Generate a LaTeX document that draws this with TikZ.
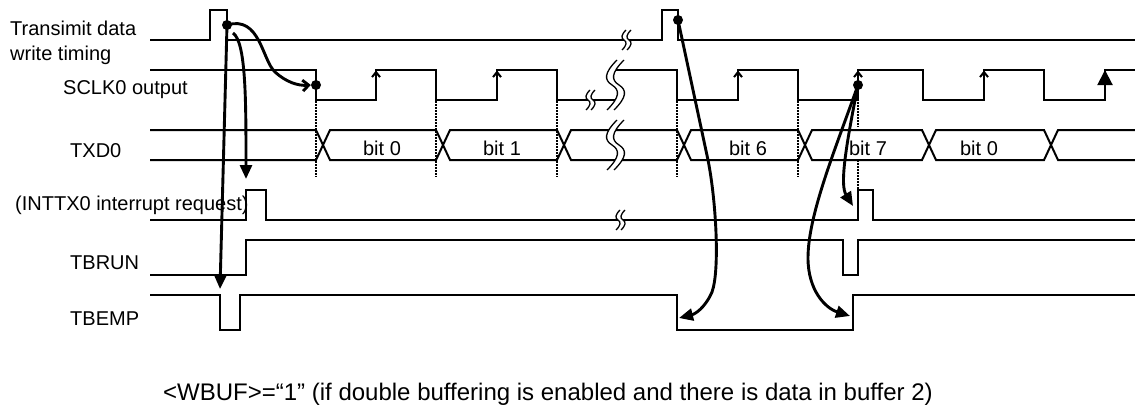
\documentclass[tikz,border=0pt]{standalone}
\usepackage{fontspec}
\setmainfont{Liberation Sans}
\usetikzlibrary{arrows.meta}
\begin{document}
\begin{tikzpicture}[x=1pt,y=-1pt,
  sig/.style={line width=2pt, line join=miter},
  dotl/.style={line width=1.6pt, dash pattern=on 1.5pt off 1.5pt},
  conn/.style={line width=2.9pt},
  fil/.style={-{Triangle[length=14pt,width=12pt]}},
  opn/.style={-{Straight Barb[length=6pt,width=11pt]}},
  rise/.style={line width=2pt, -{Straight Barb[length=5pt,width=8pt]}},
  riseb/.style={line width=2pt, -{Triangle[length=15pt,width=15pt]}},
  lbl/.style={font=\fontsize{20}{24}\selectfont, anchor=base west, inner sep=0pt},
  bitl/.style={font=\fontsize{20}{24}\selectfont, anchor=base, inner sep=0pt},
  jdot/.style={circle, fill=black, inner sep=0pt, minimum size=10pt},
  bigbrk/.pic={
    \fill[white] (5,-25) .. controls (-8,-12) and (-8,-5) .. (0,0) .. controls (8,5) and (8,12) .. (-5,25)
      -- (2,25) .. controls (15,12) and (15,5) .. (7,0) .. controls (-1,-5) and (-1,-12) .. (12,-25) -- cycle;
    \draw[line width=1.3pt] (5,-25) .. controls (-8,-12) and (-8,-5) .. (0,0) .. controls (8,5) and (8,12) .. (-5,25);
    \draw[line width=1.3pt] (12,-25) .. controls (-1,-12) and (-1,-5) .. (7,0) .. controls (15,5) and (15,12) .. (2,25);
  },
  smallbrk/.pic={
    \fill[white] (2,-10) .. controls (-3,-5) and (-3,-2) .. (0,0) .. controls (3,2) and (3,5) .. (-2,10)
      -- (3,10) .. controls (8,5) and (8,2) .. (5,0) .. controls (2,-2) and (2,-5) .. (7,-10) -- cycle;
    \draw[line width=1.3pt] (2,-10) .. controls (-3,-5) and (-3,-2) .. (0,0) .. controls (3,2) and (3,5) .. (-2,10);
    \draw[line width=1.3pt] (7,-10) .. controls (2,-5) and (2,-2) .. (5,0) .. controls (8,2) and (8,5) .. (3,10);
  },
]
\useasboundingbox (0,0) rectangle (1135,412);

% labels
\node[lbl] (lt1) at (10,36) {Transimit data};
\node[lbl] (lt2) at (10,60) {write timing};
\node[lbl] (lsc) at (63,95) {SCLK0 output};
\node[lbl] (ltx) at (70,157) {TXD0};
\node[lbl] (lin) at (15,210) {(INTTX0 interrupt request)};
\node[lbl] (lbr) at (70,269) {TBRUN};
\node[lbl] (lbe) at (70,325) {TBEMP};
\node[font=\fontsize{24}{28}\selectfont, anchor=base west, inner sep=0pt] (note) at (163,400)
  {<WBUF>=“1” (if double buffering is enabled and there is data in buffer 2)};

% bit labels
\node[bitl] (b0) at (382,155) {bit 0};
\node[bitl] (b1) at (502,155) {bit 1};
\node[bitl] (b6) at (748,155) {bit 6};
\node[bitl] (b7) at (868,155) {bit 7};
\node[bitl] (b0b) at (979,155) {bit 0};

% transmit data write timing
\draw[sig] (150,40) -- (210,40) -- (210,10) -- (227,10) -- (227,40) -- (662,40) -- (662,10) -- (678,10) -- (678,40) -- (1135,40);

% SCLK0
\draw[sig] (150,70) -- (316,70) -- (316,100) -- (376,100) -- (376,70) -- (436,70) -- (436,100) -- (497,100) -- (497,70) -- (557,70) -- (557,100) -- (617,100);
\draw[sig] (611,70) -- (677,70) -- (677,100) -- (738,100) -- (738,70) -- (798,70) -- (798,100) -- (858,100) -- (858,70) -- (923,70) -- (923,100) -- (984,100) -- (984,70) -- (1044,70) -- (1044,100) -- (1105,100) -- (1105,70) -- (1135,70);
\foreach \x in {376,497,738,858,984} \draw[rise] (\x,90) -- (\x,70.5);
\draw[riseb] (1105,95) -- (1105,70);

% TXD0
\draw[sig] (150,130) -- (316,130) -- (330,160) -- (436,160) -- (450,130) -- (557,130) -- (571,160) -- (677,160) -- (691,130) -- (798,130) -- (812,160) -- (922,160) -- (936,130) -- (1044,130) -- (1058,160) -- (1135,160);
\draw[sig] (150,160) -- (316,160) -- (330,130) -- (436,130) -- (450,160) -- (557,160) -- (571,130) -- (677,130) -- (691,160) -- (798,160) -- (812,130) -- (922,130) -- (936,160) -- (1044,160) -- (1058,130) -- (1135,130);

% INTTX0
\draw[sig] (150,220) -- (246,220) -- (246,190) -- (266,190) -- (266,220) -- (858,220) -- (858,190) -- (873,190) -- (873,220) -- (1135,220);

% TBRUN
\draw[sig] (150,275) -- (246,275) -- (246,240) -- (843,240) -- (843,275) -- (858,275) -- (858,240) -- (1135,240);

% TBEMP
\draw[sig] (150,295) -- (220,295) -- (220,330) -- (240,330) -- (240,295) -- (677,295) -- (677,330) -- (853,330) -- (853,295) -- (1135,295);

% dotted guides
\foreach \x in {316,436,557,677,798} \draw[dotl] (\x,101) -- (\x,177);
\draw[dotl] (858,90) -- (858,127);
\draw[dotl] (858,160) -- (858,189);

% breaks
\pic at (612,85) {bigbrk};
\pic at (612,145) {bigbrk};
\pic at (624,40) {smallbrk};
\pic at (588,100) {smallbrk};
\pic at (618,220) {smallbrk};

% dots
\node[jdot] (p1) at (227,25) {};
\node[jdot] (p2) at (316,85) {};
\node[jdot] (p3) at (678,20) {};
\node[jdot] (p4) at (858,85) {};

% connector ends
\coordinate (e1) at (220,289);
\coordinate (s2) at (233,33);
\coordinate (e2) at (246,179);
\coordinate (e4) at (679,318);
\coordinate (e5) at (853,206);
\coordinate (e6) at (850,316);

% connectors
\draw[conn, fil] (p1.center) -- (e1);
\draw[conn, opn] (p1.center) .. controls (260,15) and (262,60) .. (275,72) .. controls (286,82) and (298,86) .. (p2.west);
\draw[conn, fil] (s2) .. controls (246,42) and (246,100) .. (e2);
\draw[conn, fil] (p3.center) -- (708,160) .. controls (716,200) and (720,270) .. (712,292) .. controls (705,308) and (695,314) .. (e4);
\draw[conn, fil] (p4.center) .. controls (845,150) and (840,185) .. (e5);
\draw[conn, fil] (p4.center) .. controls (835,150) and (808,215) .. (808,258) .. controls (808,290) and (825,308) .. (e6);
\end{tikzpicture}
\end{document}
